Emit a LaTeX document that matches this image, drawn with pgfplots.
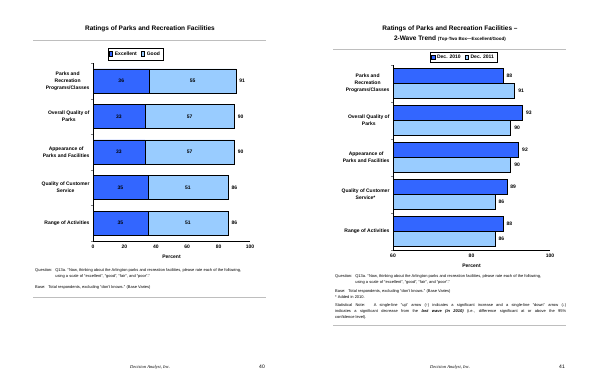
\documentclass[border=0pt]{standalone}
\usepackage{fontspec}
\setmainfont{Liberation Sans}
\newfontfamily\serifit{Liberation Serif}
\usepackage{pgfplots}
\pgfplotsset{compat=1.18}
\definecolor{exc}{RGB}{51,102,255}
\definecolor{good}{RGB}{153,204,255}
\definecolor{rule}{RGB}{190,190,190}
\newcommand{\smallf}{\fontsize{5}{7}\selectfont\bfseries}
\newcommand{\tickf}{\fontsize{5}{6}\selectfont\bfseries}
\newcommand{\notef}{\fontsize{4}{6}\selectfont}
\pgfplotsset{
  mylegend/.style={legend image code/.code={\draw[##1,line width=0.5pt] (0pt,-2pt) rectangle (3.5pt,2.5pt);}},
  catstyle/.style={
    scale only axis, anchor=south west,
    ymin=-0.5, ymax=4.5,
    axis x line*=bottom, axis y line*=left,
    axis line style={line width=0.6pt},
    ytick={0,...,4},
    yticklabels={Range of Activities, {Quality of Customer\\Service#1}, {Appearance of\\Parks and Facilities}, {Overall Quality of\\Parks}, {Parks and\\Recreation\\Programs/Classes}},
    yticklabel style={align=center, font=\smallf},
    xticklabel style={font=\tickf},
    /pgf/number format/assume math mode=true,
    major tick length=0pt,
    extra y ticks={-0.5,0.5,1.5,2.5,3.5,4.5}, extra y tick labels={},
    extra y tick style={major tick length=2pt, tick align=outside},
    xlabel={Percent}, xlabel style={font=\tickf},
    legend columns=2,
    legend style={draw=black, line width=0.5pt, font=\tickf, inner sep=1pt, /tikz/every even column/.append style={column sep=2pt}},
  },
  labelaxis/.style={scale only axis, anchor=south west, hide axis, ymin=-0.5, ymax=4.5, clip=false}
}
\begin{document}
\begin{tikzpicture}[x=1pt,y=1pt]
\path[fill=white] (0,0) rectangle (600,388);

% ---------- left page ----------
\node[font=\fontsize{6.5}{8}\selectfont\bfseries] at (150,359) {Ratings of Parks and Recreation Facilities};
\draw[rule, line width=0.8pt] (33,348) -- (266,348);

\begin{axis}[catstyle={}, at={(93pt,147pt)}, width=157pt, height=178pt,
  xbar stacked, bar width=24pt, xmin=0, xmax=100, xtick={0,20,...,100},
  legend style={at={(0.27,1)}, anchor=south, yshift=3pt}]
\addplot[fill=exc, draw=black, line width=0.6pt, mylegend]
  coordinates {(35,0) (35,1) (33,2) (33,3) (36,4)};
\addplot[fill=good, draw=black, line width=0.6pt, mylegend]
  coordinates {(51,0) (51,1) (57,2) (57,3) (55,4)};
\legend{Excellent, Good}
\end{axis}
% value labels (segment centres and totals)
\begin{axis}[labelaxis, at={(93pt,147pt)}, width=157pt, height=178pt, xmin=0, xmax=100]
\addplot[draw=none, mark=none, nodes near coords, point meta=explicit symbolic,
  every node near coord/.append style={anchor=center, font=\tickf, black}]
  coordinates {(17.5,0) [35] (17.5,1) [35] (16.5,2) [33] (16.5,3) [33] (18,4) [36]};
\addplot[draw=none, mark=none, nodes near coords, point meta=explicit symbolic,
  every node near coord/.append style={anchor=center, font=\tickf, black}]
  coordinates {(60.5,0) [51] (60.5,1) [51] (61.5,2) [57] (61.5,3) [57] (63.5,4) [55]};
\addplot[draw=none, mark=none, nodes near coords, point meta=explicit symbolic,
  every node near coord/.append style={anchor=west, font=\tickf, black}]
  coordinates {(86,0) [86] (86,1) [86] (90,2) [90] (90,3) [90] (91,4) [91]};
\end{axis}

\node[anchor=north west, font=\notef, inner sep=0pt] at (35,121) {%
  \begin{tabular}{@{}l@{\hspace{3pt}}l@{}}
  Question: & Q13a. “Now, thinking about the Arlington parks and recreation facilities, please rate each of the following,\\
  & using a scale of “excellent”, “good”, “fair”, and “poor”.”
  \end{tabular}};
\node[anchor=north west, font=\notef, inner sep=0pt] at (35,103) {Base:\hspace{3pt}Total respondents, excluding “don't knows.” (Base Varies)};
\draw[rule, line width=0.8pt] (33,91) -- (266,91);
\node[font=\fontsize{4.5}{5}\serifit\itshape] at (150,21) {Decision Analyst, Inc.};
\node[font=\fontsize{5}{6}\selectfont] at (262,21) {40};

% ---------- right page ----------
\node[font=\fontsize{6.5}{8}\selectfont\bfseries] at (450,359) {Ratings of Parks and Recreation Facilities –};
\node[font=\fontsize{6.5}{8}\selectfont\bfseries] at (450,349) {2-Wave Trend {\fontsize{4.5}{5}\selectfont (Top-Two Box—Excellent/Good)}};
\draw[rule, line width=0.8pt] (333,339) -- (566,339);

\begin{axis}[catstyle={*}, at={(393pt,138pt)}, width=157pt, height=185pt,
  xbar, bar width=15pt, xmin=60, xmax=100, xtick={60,80,100},
  legend style={at={(0.449,1)}, anchor=south, yshift=2pt}]
\addplot[fill=exc, draw=black, line width=0.6pt, mylegend, bar shift=7.5pt, nodes near coords,
  every node near coord/.append style={font=\tickf, black}]
  coordinates {(88,0) (89,1) (92,2) (93,3) (88,4)};
\addplot[fill=good, draw=black, line width=0.6pt, mylegend, bar shift=-7.5pt, nodes near coords,
  every node near coord/.append style={font=\tickf, black}]
  coordinates {(86,0) (86,1) (90,2) (90,3) (91,4)};
\legend{Dec. 2010, Dec. 2011}
\end{axis}

\node[anchor=north west, font=\notef, inner sep=0pt] at (335,115) {%
  \begin{tabular}{@{}l@{\hspace{3pt}}l@{}}
  Question: & Q13a. “Now, thinking about the Arlington parks and recreation facilities, please rate each of the following,\\
  & using a scale of “excellent”, “good”, “fair”, and “poor”.”
  \end{tabular}};
\node[anchor=north west, font=\notef, inner sep=0pt, align=left] at (335,99) {Base:\hspace{3pt}Total respondents, excluding “don't knows.” (Base Varies)\\* Added in 2010.};
\node[anchor=north west, font=\notef, inner sep=0pt, text width=231pt, align=justify] at (335,85) {Statistical Note:\hspace{3pt} A single-line “up” arrow (↑) indicates a significant increase and a single-line “down” arrow (↓)\linebreak indicates a significant decrease from the \textbf{\textit{last wave (in 2010)}} (i.e., difference significant at or above the 95\%\linebreak confidence level).};
\draw[rule, line width=0.8pt] (333,63) -- (566,63);
\node[font=\fontsize{4.5}{5}\serifit\itshape] at (450,21) {Decision Analyst, Inc.};
\node[font=\fontsize{5}{6}\selectfont] at (562,21) {41};
\end{tikzpicture}
\end{document}
